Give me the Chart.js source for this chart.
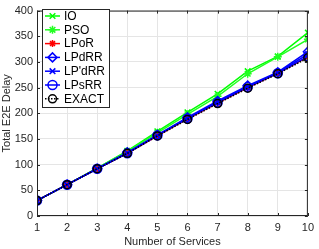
<!DOCTYPE html>
<html><head><meta charset="utf-8">
<script src="https://cdn.jsdelivr.net/npm/chart.js@4"></script>
<style>html,body{margin:0;padding:0;background:#fff}#w{width:319px;height:249px;position:relative}</style>
</head><body><div id="w"><canvas id="c" width="319" height="249"></canvas></div>
<script>
const services = [1,2,3,4,5,6,7,8,9,10];
const IO     = [30, 61, 93, 127, 165, 202, 238, 282, 311, 357];
const PSO    = [30, 61, 93, 126, 162, 198, 233, 277, 310, 344];
const LPoR   = [30, 61, 92, 122, 156, 189, 220, 250, 278, 310];
const LPdRR  = [30, 61, 92, 124, 158, 192, 224, 254, 280, 320];
const LPpdRR = [30, 61, 92, 123, 157, 190, 222, 252, 279, 315];
const LPsRR  = [30, 61, 92, 122, 157, 190, 221, 251, 278, 311];
const EXACT  = [30, 61, 92, 122, 156, 188, 219, 249, 277, 308];
const yTicks = [0,50,100,150,200,250,300,350,400];
const xTicks = [1,2,3,4,5,6,7,8,9,10];

const FONT = "'Liberation Sans', Arial, sans-serif";
const pts = arr => arr.map((v,i)=>({x:services[i], y:v}));

const series = [
  {label:'IO', data:IO, color:'#00ff00', style:'crossRot', r:4, dash:[], order:6},
  {label:'PSO', data:PSO, color:'#22ff22', style:'star', r:4, dash:[], order:5},
  {label:'LPoR', data:LPoR, color:'#ff0000', style:'star', r:3.5, dash:[], order:4},
  {label:'LPdRR', data:LPdRR, color:'#0000ff', style:'rectRot', r:4.5, dash:[], order:3},
  {label:"LP'dRR", data:LPpdRR, color:'#0000ff', style:'crossRot', r:4, dash:[], order:2},
  {label:'LPsRR', data:LPsRR, color:'#0000ff', style:'circle', r:4.5, dash:[], order:1},
  {label:'EXACT', data:EXACT, color:'#000000', style:'circle', r:4, dash:[1.5,1.5], order:0}
];

const datasets = series.map(s=>({
  label:s.label, data:pts(s.data), borderColor:s.color, backgroundColor:'rgba(0,0,0,0)',
  borderWidth:1.5, borderDash:s.dash, pointStyle:s.style, pointRadius:s.r,
  pointBorderColor:s.color, pointBackgroundColor:'rgba(0,0,0,0)', pointBorderWidth:1.5,
  order:s.order, tension:0
}));

const boxLegend = {
  id:'boxLegend',
  afterDraw(chart){
    const ctx = chart.ctx, a = chart.chartArea;
    ctx.save();
    ctx.strokeStyle = '#262626'; ctx.lineWidth = 1;
    ctx.strokeRect(a.left+0.5, a.top+0.5, a.right-a.left-1, a.bottom-a.top-1);
    const xs = chart.scales.x, ys = chart.scales.y;
    ctx.beginPath();
    xTicks.forEach(t=>{const px=Math.round(xs.getPixelForValue(t))+0.5;
      ctx.moveTo(px,a.bottom); ctx.lineTo(px,a.bottom-3); ctx.moveTo(px,a.top); ctx.lineTo(px,a.top+3);});
    yTicks.forEach(t=>{const py=Math.round(ys.getPixelForValue(t))+0.5;
      ctx.moveTo(a.left,py); ctx.lineTo(a.left+3,py); ctx.moveTo(a.right,py); ctx.lineTo(a.right-3,py);});
    ctx.stroke();
    const bx = 42, by = 9, bw = 67, bh = 98, rowH = 13.8;
    ctx.fillStyle = '#fff'; ctx.fillRect(bx, by, bw, bh);
    ctx.strokeStyle = '#262626'; ctx.strokeRect(bx+0.5, by+0.5, bw, bh);
    ctx.font = '12px ' + FONT; ctx.textBaseline = 'middle'; ctx.textAlign='left';
    series.forEach((s,i)=>{
      const y = by + 7 + i*rowH;
      ctx.strokeStyle = s.color; ctx.lineWidth = 1.5; ctx.setLineDash(s.dash);
      ctx.beginPath(); ctx.moveTo(bx+3, y); ctx.lineTo(bx+18, y); ctx.stroke();
      ctx.setLineDash([]);
      ctx.fillStyle = 'rgba(0,0,0,0)'; ctx.strokeStyle = s.color; ctx.lineWidth = 1.5;
      Chart.helpers.drawPoint(ctx, {pointStyle:s.style, radius:s.r, borderWidth:1.5}, bx+10.5, y);
      ctx.fillStyle = '#000'; ctx.fillText(s.label, bx+22, y+0.5);
    });
    ctx.restore();
  }
};

new Chart(document.getElementById('c'), {
  type:'line',
  data:{datasets},
  options:{
    responsive:false, animation:false, devicePixelRatio:1,
    layout:{padding:{top:5, right:5, left:0, bottom:0}},
    plugins:{legend:{display:false}, tooltip:{enabled:false}},
    elements:{line:{tension:0}},
    scales:{
      x:{type:'linear', min:1, max:10,
        afterBuildTicks(ax){ax.ticks = xTicks.map(v=>({value:v}));},
        afterFit(ax){ax.height = 33;},
        grid:{color:'#e5e5e5', lineWidth:1, drawTicks:false},
        border:{display:false},
        ticks:{color:'#262626', font:{family:FONT, size:11}, padding:5, maxRotation:0},
        title:{display:true, text:'Number of Services', color:'#262626', font:{family:FONT, size:11}, padding:{top:0, bottom:0}}
      },
      y:{type:'linear', min:0, max:400,
        afterBuildTicks(ax){ax.ticks = yTicks.map(v=>({value:v}));},
        afterFit(ax){ax.width = 37;},
        grid:{color:'#e5e5e5', lineWidth:1, drawTicks:false},
        border:{display:false},
        ticks:{color:'#262626', font:{family:FONT, size:11}, padding:4},
        title:{display:true, text:'Total E2E Delay', color:'#262626', font:{family:FONT, size:11}, padding:{top:0, bottom:0}}
      }
    }
  },
  plugins:[boxLegend]
});
</script></body></html>
